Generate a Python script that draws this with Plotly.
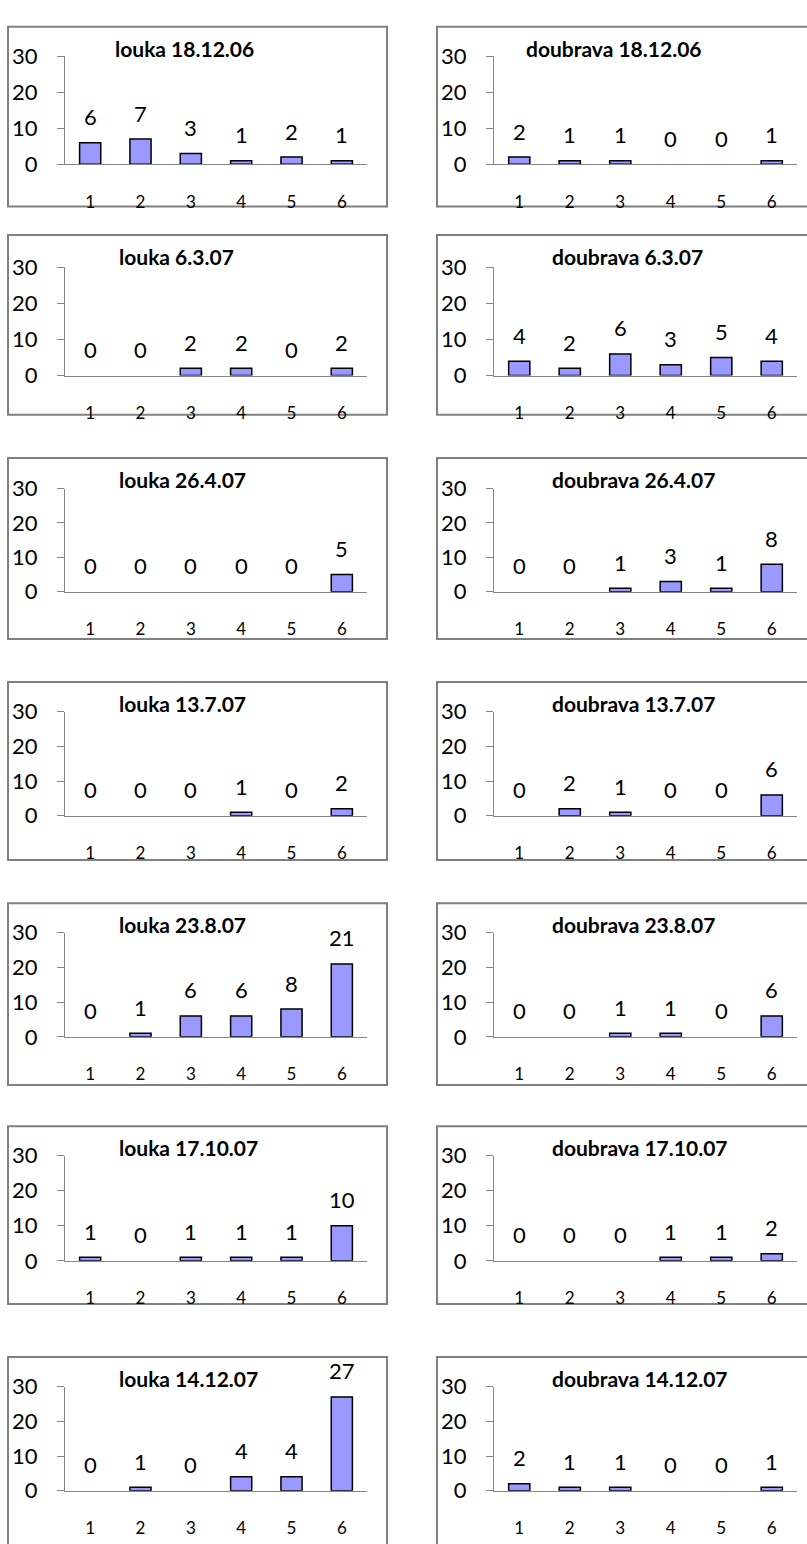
import plotly.graph_objects as go

categories = [1, 2, 3, 4, 5, 6]

louka_titles = ["louka 18.12.06", "louka 6.3.07", "louka 26.4.07", "louka 13.7.07",
                "louka 23.8.07", "louka 17.10.07", "louka 14.12.07"]
doubrava_titles = ["doubrava 18.12.06", "doubrava 6.3.07", "doubrava 26.4.07", "doubrava 13.7.07",
                   "doubrava 23.8.07", "doubrava 17.10.07", "doubrava 14.12.07"]

louka_18_12_06 = [6, 7, 3, 1, 2, 1]
louka_6_3_07 = [0, 0, 2, 2, 0, 2]
louka_26_4_07 = [0, 0, 0, 0, 0, 5]
louka_13_7_07 = [0, 0, 0, 1, 0, 2]
louka_23_8_07 = [0, 1, 6, 6, 8, 21]
louka_17_10_07 = [1, 0, 1, 1, 1, 10]
louka_14_12_07 = [0, 1, 0, 4, 4, 27]

doubrava_18_12_06 = [2, 1, 1, 0, 0, 1]
doubrava_6_3_07 = [4, 2, 6, 3, 5, 4]
doubrava_26_4_07 = [0, 0, 1, 3, 1, 8]
doubrava_13_7_07 = [0, 2, 1, 0, 0, 6]
doubrava_23_8_07 = [0, 0, 1, 1, 0, 6]
doubrava_17_10_07 = [0, 0, 0, 1, 1, 2]
doubrava_14_12_07 = [2, 1, 1, 0, 0, 1]

y_ticks = [0, 10, 20, 30]

louka = [louka_18_12_06, louka_6_3_07, louka_26_4_07, louka_13_7_07,
         louka_23_8_07, louka_17_10_07, louka_14_12_07]
doubrava = [doubrava_18_12_06, doubrava_6_3_07, doubrava_26_4_07, doubrava_13_7_07,
            doubrava_23_8_07, doubrava_17_10_07, doubrava_14_12_07]

# ---- layout geometry (pixels) ----
W, H = 807, 1544
plot_top = [43, 258, 483, 710, 935, 1162, 1397]
plot_bot = [153, 368, 588, 816, 1041, 1269, 1503]
box_top = [13, 225, 452, 680, 905, 1132, 1367]
box_bot = [196, 408, 636, 861, 1090, 1313, 1570]
col_plot = [(65, 367), (494, 797)]
col_box = [(8, 387), (437, 815)]
title_left = [[113, 117, 117, 117, 117, 117, 117], [524, 550, 550, 550, 550, 550, 550]]

FONT = "Lato"
fig = go.Figure()
shapes = []
annotations = []
layout = {}

idx = 0
for r in range(7):
    for c in range(2):
        idx += 1
        sfx = "" if idx == 1 else str(idx)
        vals = louka[r] if c == 0 else doubrava[r]
        title = louka_titles[r] if c == 0 else doubrava_titles[r]
        fig.add_trace(go.Bar(
            x=categories, y=vals, width=0.42,
            marker=dict(color="#9999FF",
                        line=dict(color="black", width=[1.5 if v > 0 else 0 for v in vals])),
            xaxis="x" + sfx, yaxis="y" + sfx, showlegend=False, hoverinfo="x+y"))
        x0, x1 = col_plot[c]
        layout["xaxis" + sfx] = dict(
            domain=[x0 / W, x1 / W], anchor="y" + sfx, range=[0.5, 6.5],
            tickvals=categories, ticks="", showline=True, linecolor="#868686",
            linewidth=1.3, showgrid=False, zeroline=False, fixedrange=True,
            ticklabelstandoff=22, tickfont=dict(family=FONT, size=17, color="black"))
        layout["yaxis" + sfx] = dict(
            domain=[1 - plot_bot[r] / H, 1 - plot_top[r] / H], anchor="x" + sfx,
            range=[0, 30], tickvals=y_ticks, ticks="outside", ticklen=7,
            tickcolor="#868686", tickwidth=1.3, showline=True, linecolor="#868686",
            linewidth=1.3, showgrid=False, zeroline=False, fixedrange=True,
            ticklabelstandoff=15, tickfont=dict(family=FONT, size=22, color="black"))
        for xv, yv in zip(categories, vals):
            annotations.append(dict(
                x=xv, y=yv, xref="x" + sfx, yref="y" + sfx, text=str(yv),
                showarrow=False, yanchor="middle", yshift=26,
                font=dict(family=FONT, size=22, color="black")))
        annotations.append(dict(
            x=title_left[c][r] / W, y=1 - (box_top[r] + 22) / H, xref="paper", yref="paper",
            text="<b>" + title + "</b>", showarrow=False, xanchor="left", yanchor="middle",
            font=dict(family=FONT, size=21, color="black")))
        bx0, bx1 = col_box[c]
        shapes.append(dict(
            type="rect", xref="paper", yref="paper",
            x0=bx0 / W, x1=bx1 / W, y0=1 - box_bot[r] / H, y1=1 - box_top[r] / H,
            line=dict(color="#808080", width=2), fillcolor="rgba(0,0,0,0)", layer="below"))

fig.update_layout(
    width=W, height=H, margin=dict(l=0, r=0, t=0, b=0),
    paper_bgcolor="white", plot_bgcolor="white",
    shapes=shapes, annotations=annotations, bargap=0.58,
    font=dict(family=FONT, color="black"),
    **layout)

fig.write_html("out.html", config={"displayModeBar": False},
               post_script="document.body.style.margin='0px';document.body.style.overflow='hidden';")
